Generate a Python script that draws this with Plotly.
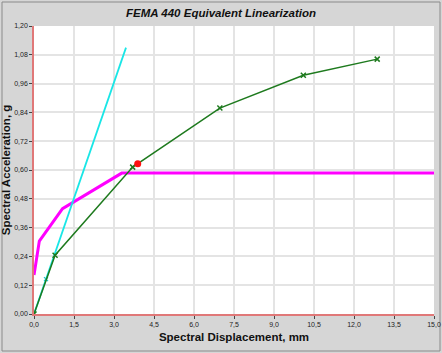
import plotly.graph_objects as go

# Data
pushover_x = [0.0, 0.79, 3.70, 6.97, 10.10, 12.87]
pushover_y = [0.0, 0.245, 0.612, 0.858, 0.995, 1.062]

elastic_x = [0.0, 0.45, 3.45]
elastic_y = [0.0, 0.145, 1.11]
elastic_marker_x = [0.45]
elastic_marker_y = [0.145]

demand_x = [0.0, 0.20, 1.07, 3.29, 15.0]
demand_y = [0.162, 0.304, 0.439, 0.587, 0.587]

perf_x = [3.89]
perf_y = [0.626]

x_ticks = [0, 1.5, 3.0, 4.5, 6.0, 7.5, 9.0, 10.5, 12.0, 13.5, 15.0]
x_labels = ["0,0", "1,5", "3,0", "4,5", "6,0", "7,5", "9,0", "10,5", "12,0", "13,5", "15,0"]
y_ticks = [0, 0.12, 0.24, 0.36, 0.48, 0.60, 0.72, 0.84, 0.96, 1.08, 1.20]
y_labels = ["0,00", "0,12", "0,24", "0,36", "0,48", "0,60", "0,72", "0,84", "0,96", "1,08", "1,20"]

fig = go.Figure()
fig.add_trace(go.Scatter(x=demand_x, y=demand_y, mode="lines",
                         line=dict(color="#ff00ff", width=3)))
fig.add_trace(go.Scatter(x=elastic_x, y=elastic_y, mode="lines",
                         line=dict(color="#19e6e6", width=1.8)))
fig.add_trace(go.Scatter(x=elastic_marker_x, y=elastic_marker_y, mode="markers",
                         marker=dict(symbol="x-thin", size=4, line=dict(color="#19c8c8", width=1.2))))
fig.add_trace(go.Scatter(x=pushover_x, y=pushover_y, mode="lines+markers",
                         line=dict(color="#1e7a1e", width=1.5),
                         marker=dict(symbol="x-thin", size=5, line=dict(color="#1e7a1e", width=1.5))))
fig.add_trace(go.Scatter(x=perf_x, y=perf_y, mode="markers",
                         marker=dict(color="#ff1010", size=7)))

fig.update_layout(
    width=442, height=353,
    margin=dict(l=34, r=8, t=26, b=39, autoexpand=False),
    paper_bgcolor="#d6d6d6",
    plot_bgcolor="#ffffff",
    showlegend=False,
    title=dict(text="<b><i>FEMA 440 Equivalent Linearization</i></b>",
               x=0.5, xanchor="center", y=0.963, yanchor="middle",
               font=dict(family="Liberation Sans, Arial", size=11.5, color="#111111")),
    font=dict(family="Liberation Sans, Arial", color="#222222"),
)
fig.update_xaxes(range=[0, 15], tickvals=x_ticks, ticktext=x_labels, automargin=False,
                 tickfont=dict(size=7), ticks="outside", ticklen=3, tickcolor="#444444",
                 showgrid=True, gridcolor="#e4e4e4", gridwidth=1.5,
                 showline=True, linecolor="#e07878", linewidth=1.5, zeroline=False,
                 title=dict(text="<b>Spectral Displacement, mm</b>", font=dict(size=11.5, color="#111111"), standoff=6))
fig.update_yaxes(range=[0, 1.2], tickvals=y_ticks, ticktext=y_labels, automargin=False,
                 tickfont=dict(size=7), ticks="outside", ticklen=3, tickcolor="#444444",
                 showgrid=True, gridcolor="#e4e4e4", gridwidth=1.5,
                 showline=True, linecolor="#e07878", linewidth=1.5, zeroline=False,
                 title=dict(text="<b>Spectral Acceleration, g</b>", font=dict(size=11.5, color="#111111"), standoff=4))

fig.add_shape(type="rect", xref="paper", yref="paper", x0=-32/400, x1=1+6/400, y0=-37/288, y1=1+24/288,
              line=dict(color="#8a8a8a", width=1), layer="below")

fig.write_html("out.html")
